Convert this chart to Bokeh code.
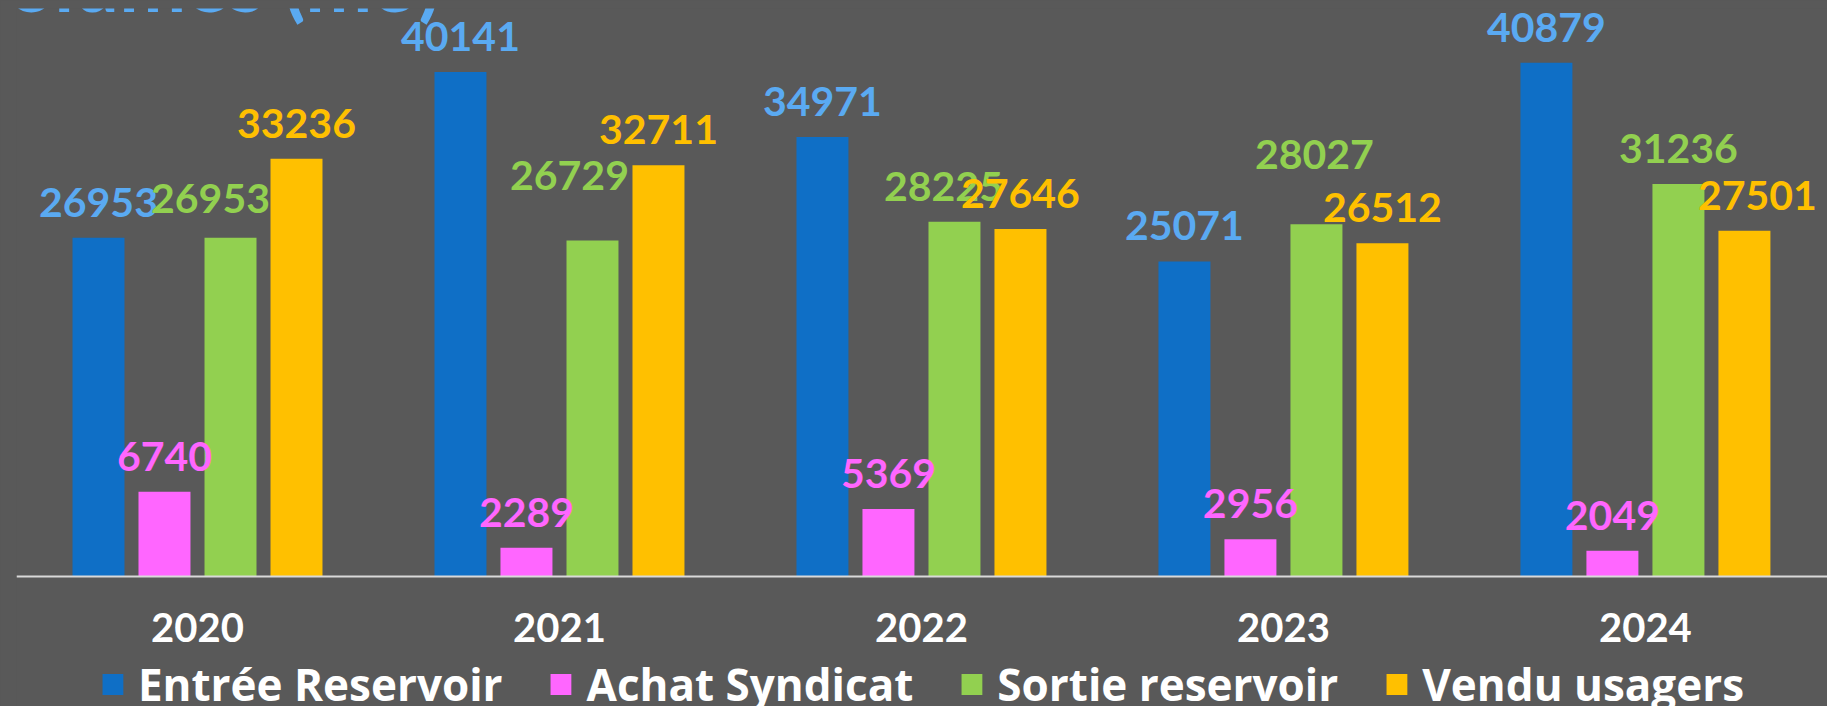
from bokeh.plotting import figure
from bokeh.models import (ColumnDataSource, Range1d, FixedTicker, Legend, LegendItem,
                          LabelSet, Label)
from bokeh.core.properties import value
from bokeh.transform import dodge
from bokeh.embed import file_html
from bokeh.resources import INLINE

# ---- data ----
years = ["2020", "2021", "2022", "2023", "2024"]
series_names = ["Entrée Reservoir", "Achat Syndicat", "Sortie reservoir", "Vendu usagers"]
entree_reservoir = [26953, 40141, 34971, 25071, 40879]
achat_syndicat = [6740, 2289, 5369, 2956, 2049]
sortie_reservoir = [26953, 26729, 28225, 28027, 31236]
vendu_usagers = [33236, 32711, 27646, 26512, 27501]

# ---- styles ----
bar_colors = ["#0F6FC6", "#FF66FF", "#92D050", "#FFC000"]
label_colors = ["#5AAAF2", "#FF66FF", "#92D050", "#FFC000"]
offsets = [-0.2735, -0.0912, 0.0912, 0.2735]
# per-label nudges (pixels) mimicking the original label placement
label_dx = [[0, 0, 0, 0, 0], [0, 0, 0, 0, 0], [-20, -23, -11, -2, 0], [0, 0, 0, 0, 13]]
label_dy = [[0, 0, 0, 0, 0], [0, 0, 0, 0, 0], [4, 30, 0, 34, 0], [0, 0, 0, 0, 0]]
BG = "#595959"
FONT = "Lato"
LEG_FONT = "Open Sans"

all_values = [entree_reservoir, achat_syndicat, sortie_reservoir, vendu_usagers]

# frame covers the whole lower area; the axis is drawn at y=0 inside it
p = figure(frame_width=1811, frame_height=706, output_backend="svg", toolbar_location=None,
           x_range=Range1d(-0.5, 4.503), y_range=Range1d(-10979, 45190),
           y_axis_location=None, min_border_left=16, min_border_right=0,
           min_border_top=8, min_border_bottom=0)
p.background_fill_color = BG
p.border_fill_color = BG
p.outline_line_color = None
p.xgrid.visible = False
p.ygrid.visible = False

items = []
for name, vals, col, lcol, off, dx, dy in zip(series_names, all_values, bar_colors,
                                              label_colors, offsets, label_dx, label_dy):
    src = ColumnDataSource(dict(x=list(range(len(years))), v=vals,
                                lab=[str(v) for v in vals],
                                dx=dx, dy=[21 + d for d in dy]))
    r = p.vbar(x=dodge("x", off, range=p.x_range), top="v", bottom=0, width=0.1436,
               source=src, fill_color=col, line_color=None)
    items.append(LegendItem(label=name, renderers=[r]))
    ls = LabelSet(x=dodge("x", off, range=p.x_range), y="v", text="lab", source=src,
                  x_offset="dx", y_offset="dy",
                  text_align="center", text_baseline="alphabetic",
                  text_color=lcol, text_font=value(FONT), text_font_style="bold",
                  text_font_size="41px")
    p.add_layout(ls)

ax = p.xaxis[0]
ax.fixed_location = 0
ax.ticker = FixedTicker(ticks=list(range(len(years))))
ax.major_label_overrides = {i: y for i, y in enumerate(years)}
ax.major_label_text_font = FONT
ax.major_label_text_font_style = "bold"
ax.major_label_text_font_size = "40px"
ax.major_label_text_color = "white"
ax.major_tick_line_color = None
ax.minor_tick_line_color = None
ax.axis_line_color = "#D9D9D9"
ax.axis_line_width = 2
ax.major_label_standoff = 30

legend = Legend(items=items, orientation="horizontal", location="bottom_center",
                glyph_width=26, glyph_height=26, label_standoff=13, spacing=45,
                padding=0, margin=0, label_text_font=LEG_FONT, label_text_font_style="bold",
                label_text_font_size="44px", label_text_color="white",
                background_fill_alpha=0, border_line_alpha=0)
p.add_layout(legend)

title = Label(x=424, x_units="screen", y=45190, y_offset=28, text="Volumes (m3)",
              text_align="right", text_baseline="alphabetic", text_color="#5AAAF2",
              text_font=FONT, text_font_style="bold", text_font_size="80px")
p.add_layout(title)

html = file_html(p, INLINE)
html = html.replace("<body>", '<body style="background-color:#595959;overflow:hidden;">')
open("out.html", "w").write(html)
